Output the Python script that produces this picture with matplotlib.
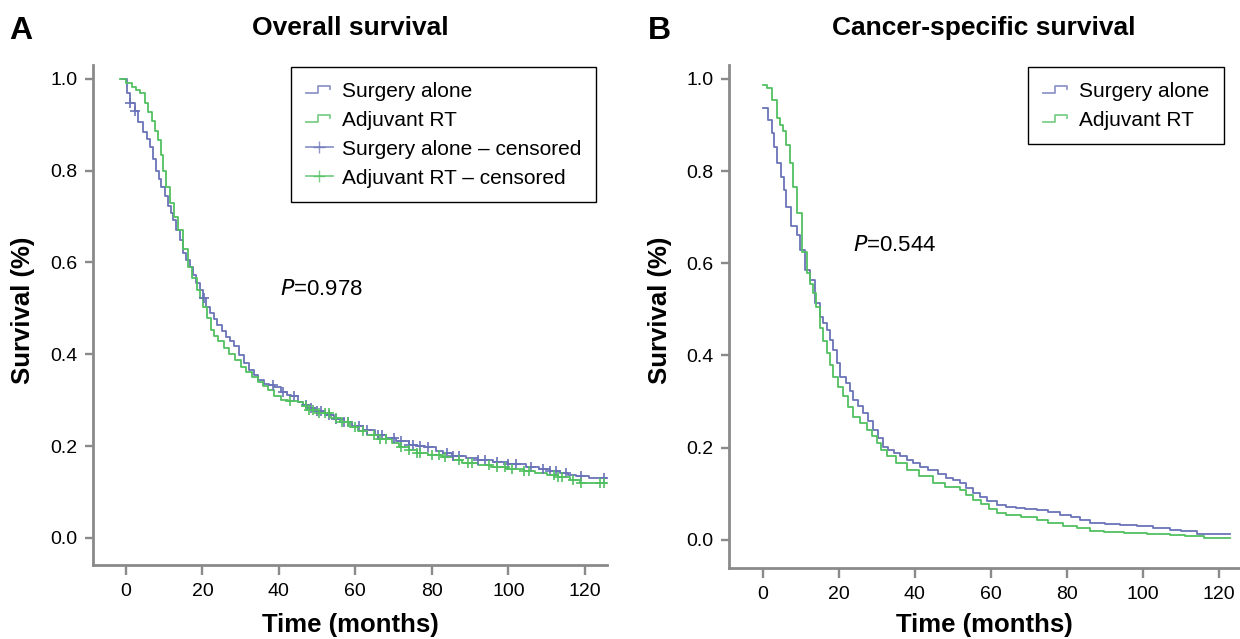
import numpy as np
import matplotlib
matplotlib.use("Agg")
import matplotlib.pyplot as plt
from matplotlib.lines import Line2D

# ---------------- data ----------------
os_surg_t = [-1, 0.3, 1.0, 2.3, 3.2, 4.5, 5.4, 6.3, 7.2, 8.0, 8.7, 9.3, 10.2, 11.1, 11.8, 12.4, 13.2, 14.1, 15.0,
             15.8, 16.7, 17.6, 18.4, 19.3, 20.2, 21.0, 22.0, 23.0, 23.9, 25.0, 26.2, 27.3, 28.3, 29.6, 31.0, 32.2,
             33.4, 34.5, 36.0, 37.5, 38.8, 40.5, 42.0, 43.2, 45.0, 46.3, 47.6, 49.5, 52.0, 54.5, 57.0, 59.0, 62.0,
             65.1, 68.0, 70.5, 73.9, 76.0, 78.3, 81.0, 83.0, 85.3, 89.0, 92.0, 95.9, 100.0, 104.6, 108.0, 111.0,
             113.4, 115.5, 117.8, 121.0]
os_surg_s = [1.0, 0.969, 0.947, 0.929, 0.905, 0.885, 0.868, 0.852, 0.826, 0.80, 0.782, 0.765, 0.744, 0.722, 0.707,
             0.693, 0.671, 0.649, 0.62, 0.605, 0.591, 0.573, 0.556, 0.54, 0.522, 0.504, 0.489, 0.476, 0.464, 0.45,
             0.437, 0.428, 0.417, 0.399, 0.38, 0.366, 0.355, 0.344, 0.336, 0.332, 0.328, 0.318, 0.312, 0.308, 0.297,
             0.29, 0.283, 0.276, 0.268, 0.260, 0.252, 0.243, 0.234, 0.224, 0.218, 0.212, 0.203, 0.201, 0.199, 0.19,
             0.185, 0.179, 0.174, 0.169, 0.165, 0.16, 0.155, 0.150, 0.145, 0.141, 0.138, 0.135, 0.131]
os_rt_t = [-1.6, 0.0, 1.5, 2.6, 3.7, 5.0, 5.9, 6.7, 7.6, 8.4, 9.1, 9.8, 10.6, 11.5, 12.6, 13.7, 15.0, 16.3, 17.4,
           18.5, 19.3, 20.2, 21.2, 22.2, 23.0, 24.0, 25.7, 27.0, 28.5, 30.0, 31.5, 33.0, 34.5, 35.8, 37.1, 38.8,
           40.6, 42.5, 45.0, 46.3, 47.6, 50.0, 53.7, 56.0, 58.5, 60.8, 63.0, 66.0, 69.5, 71.5, 73.9, 76.0, 79.0,
           82.7, 85.5, 88.0, 92.0, 95.5, 99.4, 104.0, 107.0, 110.0, 113.0, 116.0, 118.7]
os_rt_s = [1.0, 0.99, 0.983, 0.976, 0.969, 0.947, 0.927, 0.907, 0.887, 0.867, 0.835, 0.80, 0.765, 0.729, 0.70,
           0.671, 0.63, 0.591, 0.565, 0.54, 0.522, 0.504, 0.478, 0.453, 0.44, 0.428, 0.413, 0.40, 0.387, 0.373,
           0.362, 0.351, 0.34, 0.331, 0.322, 0.31, 0.30, 0.298, 0.297, 0.288, 0.279, 0.272, 0.261, 0.252, 0.242,
           0.232, 0.224, 0.215, 0.206, 0.199, 0.192, 0.186, 0.181, 0.177, 0.17, 0.163, 0.158, 0.154, 0.15, 0.146,
           0.141, 0.137, 0.132, 0.126, 0.12]
os_surg_cens = [1.0, 2.3, 20.5, 38.5, 41, 44, 47, 48.5, 50, 51, 53, 55, 57, 58, 61, 63, 66, 67, 70, 72, 74, 75,
                77, 79, 84, 85.5, 87, 92, 94, 97, 100, 102, 106, 109, 111, 112.5, 115, 119, 125]
os_rt_cens = [43, 47, 48, 49, 50.5, 52, 53, 55, 56.5, 58, 60, 62, 65, 66.5, 68, 72, 74, 76, 77, 80, 82, 83.5, 87,
              89.5, 90.5, 95, 97, 99, 101, 104, 105.5, 112, 113, 114, 117, 119, 124, 125]
os_end = 125.7

css_surg_t = [0, 1.4, 2.3, 3.0, 3.6, 4.9, 5.6, 6.2, 7.5, 8.9, 9.7, 11.0, 12.4, 13.7, 15.0, 15.9, 16.8, 17.6, 18.5,
              19.4, 20.3, 22.0, 22.9, 23.8, 25.0, 26.4, 27.7, 29.0, 30.3, 31.7, 33.0, 34.5, 36.0, 38.0, 39.5, 41.3,
              43.5, 46.0, 48.3, 50.0, 51.8, 53.5, 55.3, 57.0, 59.0, 61.5, 64.0, 66.5, 69.0, 72.0, 75.0, 78.2, 81.0,
              83.5, 86.0, 90.0, 94.0, 98.3, 102.5, 107.1, 110.0, 114.1]
css_surg_s = [0.936, 0.911, 0.882, 0.853, 0.817, 0.788, 0.759, 0.723, 0.68, 0.662, 0.629, 0.586, 0.564, 0.513,
              0.484, 0.47, 0.456, 0.434, 0.412, 0.383, 0.354, 0.34, 0.322, 0.304, 0.29, 0.275, 0.257, 0.239, 0.22,
              0.202, 0.195, 0.188, 0.181, 0.174, 0.167, 0.159, 0.152, 0.142, 0.134, 0.13, 0.124, 0.112, 0.101,
              0.093, 0.085, 0.076, 0.072, 0.069, 0.067, 0.065, 0.06, 0.054, 0.05, 0.044, 0.036, 0.035, 0.033, 0.03,
              0.026, 0.022, 0.02, 0.013]
css_rt_t = [0, 1.0, 2.3, 3.6, 4.5, 5.3, 6.2, 7.1, 8.0, 8.9, 10.2, 11.5, 12.4, 13.3, 14.1, 15.0, 15.9, 16.8, 17.6,
            18.5, 19.8, 21.1, 22.4, 23.8, 25.5, 27.3, 28.6, 29.9, 31.2, 32.6, 35.0, 37.8, 41.0, 44.8, 48.0, 51.8,
            53.5, 55.3, 57.5, 59.5, 61.5, 64.0, 68.0, 72.0, 75.0, 79.0, 82.6, 86.0, 89.6, 95.0, 101.0, 107.0, 111.0,
            115.9]
css_rt_s = [0.987, 0.98, 0.954, 0.915, 0.9, 0.886, 0.857, 0.817, 0.766, 0.709, 0.625, 0.578, 0.556, 0.535, 0.506,
            0.459, 0.432, 0.405, 0.38, 0.354, 0.332, 0.311, 0.289, 0.267, 0.253, 0.239, 0.225, 0.21, 0.195, 0.181,
            0.166, 0.152, 0.138, 0.123, 0.115, 0.108, 0.097, 0.087, 0.077, 0.068, 0.058, 0.055, 0.05, 0.043, 0.037,
            0.031, 0.025, 0.02, 0.016, 0.015, 0.013, 0.011, 0.008, 0.004]
css_end = 123.0

x_ticks = [0, 20, 40, 60, 80, 100, 120]
y_ticks = [0.0, 0.2, 0.4, 0.6, 0.8, 1.0]
p_os = "0.978"
p_css = "0.544"

# ---------------- style ----------------
BLUE = "#6a73b8"
GREEN = "#52c061"
SPINE = "#8a8a8a"
plt.rcParams["font.family"] = ["Liberation Sans", "DejaVu Sans"]
W, H = 1240.0, 639.0


class StepHandler:
    def legend_artist(self, legend, orig_handle, fontsize, handlebox):
        x0, y0 = handlebox.xdescent, handlebox.ydescent
        w, h = handlebox.width, handlebox.height
        xs = [x0, x0 + 0.45 * w, x0 + 0.45 * w, x0 + 0.9 * w, x0 + 0.9 * w]
        ys = [y0 + 0.25 * h, y0 + 0.25 * h, y0 + 0.7 * h, y0 + 0.7 * h, y0 + 0.5 * h]
        ln = Line2D(xs, ys, color=orig_handle.get_color(), lw=1.3, alpha=0.75,
                    transform=handlebox.get_transform())
        handlebox.add_artist(ln)
        return ln


def step_vals(t, s, q):
    t = np.asarray(t); s = np.asarray(s)
    idx = np.searchsorted(t, np.asarray(q), side="right") - 1
    return s[np.clip(idx, 0, len(s) - 1)]


def draw_curve(ax, t, s, end, color):
    tt = list(t) + [end]
    ss = list(s) + [s[-1]]
    ax.step(tt, ss, where="post", color=color, lw=1.3)


def style_axes(ax, xlim, ylim):
    ax.set_xlim(*xlim)
    ax.set_ylim(*ylim)
    for sp in ["top", "right"]:
        ax.spines[sp].set_visible(False)
    for sp in ["left", "bottom"]:
        ax.spines[sp].set_color(SPINE)
        ax.spines[sp].set_linewidth(2.0)
    ax.set_xticks(x_ticks)
    ax.set_yticks(y_ticks)
    ax.set_yticklabels([f"{v:.1f}" for v in y_ticks], fontsize=14)
    ax.set_xticklabels([str(v) for v in x_ticks], fontsize=14)
    ax.tick_params(axis="y", direction="out", length=6, width=1.7, color=SPINE, pad=5)
    ax.tick_params(axis="x", direction="out", length=7, width=1.7, color=SPINE, pad=6)


fig = plt.figure(figsize=(12.4, 6.39), dpi=100)
leg_kw = dict(loc="upper right", bbox_transform=fig.transFigure, borderaxespad=0, fontsize=15,
              frameon=True, fancybox=False, edgecolor="black", framealpha=1, handlelength=1.3,
              handletextpad=0.45, borderpad=0.7, labelspacing=0.48)

# ---- Panel A ----
ax1 = fig.add_axes([93 / W, 1 - 565 / H, 514 / W, 500 / H])
draw_curve(ax1, os_surg_t, os_surg_s, os_end, BLUE)
draw_curve(ax1, os_rt_t, os_rt_s, os_end, GREEN)
ax1.plot(os_surg_cens, step_vals(os_surg_t, os_surg_s, os_surg_cens), ls="none", marker="+",
         ms=7, mew=1.2, color=BLUE)
ax1.plot(os_rt_cens, step_vals(os_rt_t, os_rt_s, os_rt_cens), ls="none", marker="+",
         ms=7, mew=1.2, color=GREEN)
style_axes(ax1, (-8.6, 125.8), (-0.059, 1.03))
ax1.text(40.3, 0.542, "$\\it{P}$=" + p_os, fontsize=16, va="center", ha="left")
fig.text(350 / W, 1 - 28 / H, "Overall survival", fontsize=19, fontweight="bold", ha="center", va="center")
fig.text(350 / W, 1 - 625 / H, "Time (months)", fontsize=18.5, fontweight="bold", ha="center", va="center")
fig.text(23 / W, 1 - 310 / H, "Survival (%)", fontsize=18.5, fontweight="bold", ha="center", va="center",
         rotation=90)
fig.text(21 / W, 1 - 31 / H, "A", fontsize=23, fontweight="bold", ha="center", va="center")

h1 = [Line2D([], [], color=BLUE), Line2D([], [], color=GREEN),
      Line2D([], [], color=BLUE, marker="+", ms=9, lw=1.3, alpha=0.75),
      Line2D([], [], color=GREEN, marker="+", ms=9, lw=1.3, alpha=0.75)]
leg1 = fig.legend(h1, ["Surgery alone", "Adjuvant RT", "Surgery alone \u2013 censored",
                       "Adjuvant RT \u2013 censored"],
                  handler_map={h1[0]: StepHandler(), h1[1]: StepHandler()},
                  bbox_to_anchor=(596 / W, 1 - 67 / H), numpoints=1, **leg_kw)
leg1.get_frame().set_linewidth(1.0)

# ---- Panel B ----
ax2 = fig.add_axes([729 / W, 1 - 568 / H, 511 / W, 503 / H])
draw_curve(ax2, css_surg_t, css_surg_s, css_end, BLUE)
draw_curve(ax2, css_rt_t, css_rt_s, css_end, GREEN)
style_axes(ax2, (-8.9, 125.5), (-0.061, 1.03))
ax2.text(23.6, 0.638, "$\\it{P}$=" + p_css, fontsize=16, va="center", ha="left")
fig.text(984 / W, 1 - 28 / H, "Cancer-specific survival", fontsize=19, fontweight="bold", ha="center",
         va="center")
fig.text(984 / W, 1 - 625 / H, "Time (months)", fontsize=18.5, fontweight="bold", ha="center", va="center")
fig.text(660 / W, 1 - 310 / H, "Survival (%)", fontsize=18.5, fontweight="bold", ha="center", va="center",
         rotation=90)
fig.text(659 / W, 1 - 31 / H, "B", fontsize=23, fontweight="bold", ha="center", va="center")

h2 = [Line2D([], [], color=BLUE), Line2D([], [], color=GREEN)]
leg2 = fig.legend(h2, ["Surgery alone", "Adjuvant RT"],
                  handler_map={h2[0]: StepHandler(), h2[1]: StepHandler()},
                  bbox_to_anchor=(1224 / W, 1 - 67 / H), **leg_kw)
leg2.get_frame().set_linewidth(1.0)

fig.savefig("out.png", dpi=100)
